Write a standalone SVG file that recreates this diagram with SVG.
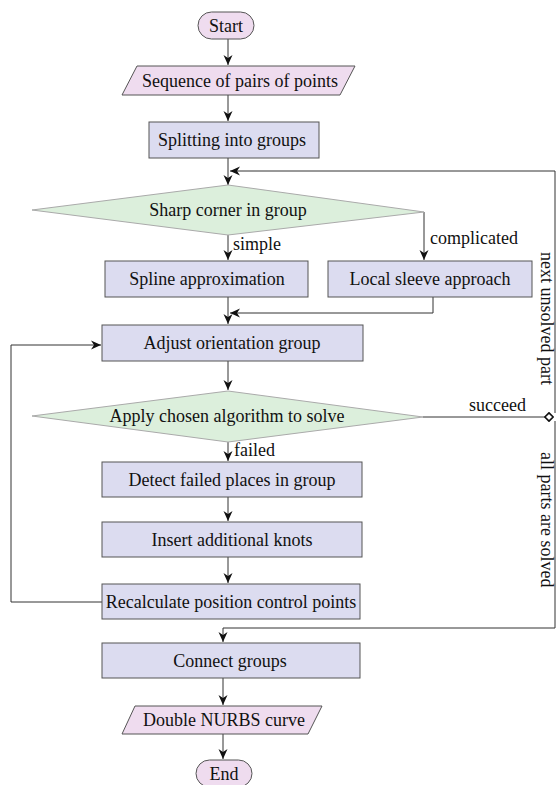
<svg xmlns="http://www.w3.org/2000/svg" width="558" height="785" viewBox="0 0 558 785">
<defs>
<style>
.term{fill:#efdcef;stroke:#555;stroke-width:1}
.box{fill:#dcdcf0;stroke:#555;stroke-width:1}
.dia{fill:#dcefdc;stroke:#aaa;stroke-width:1}
.io{fill:#efdcef;stroke:#555;stroke-width:1}
.t{font-size:18px;text-anchor:middle;fill:#111}
.l{font-size:18px;fill:#111}
.c{fill:none;stroke:#333;stroke-width:1}
</style>
<marker id="ah" viewBox="0 0 10 10" refX="10" refY="5" markerWidth="10" markerHeight="10" markerUnits="userSpaceOnUse" orient="auto">
<path d="M0,0.5 L10,5 L0,9.5 L3,5 Z" fill="#111"/>
</marker>
<marker id="dm" viewBox="0 0 12 12" refX="6" refY="6" markerWidth="10" markerHeight="10" markerUnits="userSpaceOnUse" orient="auto">
<path d="M1,6 L6,1 L11,6 L6,11 Z" fill="#fff" stroke="#111" stroke-width="2"/>
</marker>
</defs>
<rect width="558" height="785" fill="#fff"/>
<g id="connectors">
<path class="c" d="M228,39 V65" marker-end="url(#ah)"/>
<path class="c" d="M228,95 V121" marker-end="url(#ah)"/>
<path class="c" d="M228,158 V185" marker-end="url(#ah)"/>
<path class="c" d="M555,413 V171 H230" marker-end="url(#ah)"/>
<path class="c" d="M228,235 V260" marker-end="url(#ah)"/>
<path class="c" d="M424,212 V260" marker-end="url(#ah)"/>
<path class="c" d="M433,297 V313 H230" marker-end="url(#ah)"/>
<path class="c" d="M228,297 V324" marker-end="url(#ah)"/>
<path class="c" d="M228,361 V390" marker-end="url(#ah)"/>
<path class="c" d="M228,442 V461" marker-end="url(#ah)"/>
<path class="c" d="M228,497 V521" marker-end="url(#ah)"/>
<path class="c" d="M228,557 V583" marker-end="url(#ah)"/>
<path class="c" d="M102,602 H11 V345 H101" marker-end="url(#ah)"/>
<path class="c" d="M423,417 H549" marker-end="url(#dm)"/>
<path class="c" d="M555,421 V628 H223 V642" marker-end="url(#ah)"/>
<path class="c" d="M223,678 V705" marker-end="url(#ah)"/>
<path class="c" d="M223,734 V759" marker-end="url(#ah)"/>
<text class="l" font-family="Liberation Serif" x="233" y="250">simple</text>
<text class="l" font-family="Liberation Serif" x="430" y="244">complicated</text>
<text class="l" font-family="Liberation Serif" x="234" y="456">failed</text>
<text class="l" font-family="Liberation Serif" x="469" y="411">succeed</text>
<text class="l" font-family="Liberation Serif" transform="translate(541,252) rotate(90)">next unsolved part</text>
<text class="l" font-family="Liberation Serif" transform="translate(541,452) rotate(90)">all parts are solved</text>
</g>
<g id="start"><rect class="term" x="198" y="12" width="56" height="27" rx="13.5"/><text class="t" font-family="Liberation Serif" x="226" y="32">Start</text></g>
<g id="seq"><polygon class="io" points="137,66 355,66 340,95 122,95"/><text class="t" font-family="Liberation Serif" x="240" y="87">Sequence of pairs of points</text></g>
<g id="split"><rect class="box" x="149" y="122" width="170" height="36"/><text class="t" font-family="Liberation Serif" x="232" y="146">Splitting into groups</text></g>
<g id="sharp"><polygon class="dia" points="32,210 228,185 424,212 228,235"/><text class="t" font-family="Liberation Serif" x="228" y="216">Sharp corner in group</text></g>
<g id="spline"><rect class="box" x="105" y="261" width="203" height="36"/><text class="t" font-family="Liberation Serif" x="207" y="285">Spline approximation</text></g>
<g id="sleeve"><rect class="box" x="328" y="261" width="204" height="36"/><text class="t" font-family="Liberation Serif" x="430" y="285">Local sleeve approach</text></g>
<g id="adjust"><rect class="box" x="102" y="325" width="261" height="36"/><text class="t" font-family="Liberation Serif" x="232" y="349">Adjust orientation group</text></g>
<g id="apply"><polygon class="dia" points="32,416 228,391 423,417 228,442"/><text class="t" font-family="Liberation Serif" x="227" y="422">Apply chosen algorithm to solve</text></g>
<g id="detect"><rect class="box" x="102" y="462" width="260" height="35"/><text class="t" font-family="Liberation Serif" x="232" y="486">Detect failed places in group</text></g>
<g id="insert"><rect class="box" x="102" y="522" width="260" height="35"/><text class="t" font-family="Liberation Serif" x="232" y="546">Insert additional knots</text></g>
<g id="recalc"><rect class="box" x="102" y="584" width="258" height="35"/><text class="t" font-family="Liberation Serif" x="231" y="608">Recalculate position control points</text></g>
<g id="connect"><rect class="box" x="102" y="643" width="258" height="35"/><text class="t" font-family="Liberation Serif" x="230" y="667">Connect groups</text></g>
<g id="nurbs"><polygon class="io" points="135,706 322,706 308,734 122,734"/><text class="t" font-family="Liberation Serif" x="224" y="726">Double NURBS curve</text></g>
<g id="end"><rect class="term" x="196" y="760" width="56" height="27" rx="13.5"/><text class="t" font-family="Liberation Serif" x="224" y="780">End</text></g>
</svg>
